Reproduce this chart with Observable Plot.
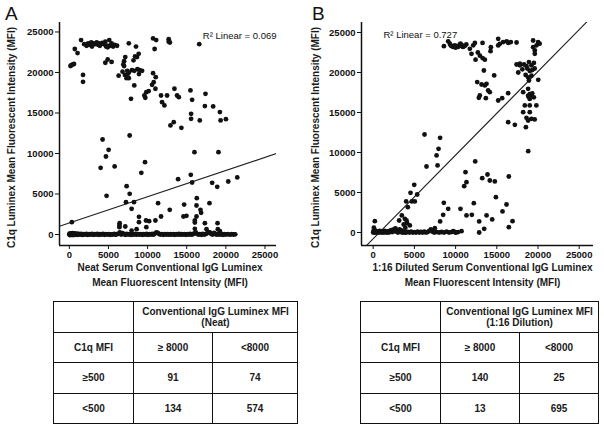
<!DOCTYPE html>
<html><head><meta charset="utf-8">
<script src="https://cdn.jsdelivr.net/npm/d3@7"></script>
<script src="https://cdn.jsdelivr.net/npm/@observablehq/plot@0.6"></script>
<style>
body{margin:0;background:#fff;}
#fig{position:relative;width:604px;height:432px;overflow:hidden;font-family:"Liberation Sans",Arial,sans-serif;}
.pl{position:absolute;top:0}
.lab{position:absolute;font-size:19px;line-height:19px;color:#111}
table.t{position:absolute;border-collapse:collapse;table-layout:fixed;font-weight:bold;font-size:10px;color:#1a1a1a;font-family:"Liberation Sans",Arial,sans-serif}
table.t td{border:1.5px solid #111;text-align:center;vertical-align:middle;height:29.5px;padding:0;line-height:11px}
</style></head>
<body><div id="fig"></div>
<script>
// ---------- data ----------
const tickVals = [0, 5000, 10000, 15000, 20000, 25000];
const yLabel = "C1q Luminex Mean Fluorescent Intensity (MFI)";
const xLabelA = ["Neat Serum Conventional IgG Luminex", "Mean Fluorescent Intensity (MFI)"];
const xLabelB = ["1:16 Diluted Serum Conventional IgG Luminex", "Mean Fluorescent Intensity (MFI)"];
const r2A = "R\u00B2 Linear = 0.069";
const r2B = "R\u00B2 Linear = 0.727";
const fitA = [1418, 0.324];     // intercept, slope
const fitB = [-777, 1.0455];
const xDomainA = [-1256, 26474], yDomainA = [-1358, 26170];
const xDomainB = [-1420, 26735], yDomainB = [-1625, 26250];

const upperA = [[250,20900],[450,21000],[600,21050],[150,20800],[700,22900],[1050,22400],[1500,24000],[1750,19700],[1750,18850],
[1900,23500],[2200,23300],[2400,23600],[2600,23400],[2800,23700],[2900,23200],[3100,23600],[3300,23500],[3500,23700],[3700,23400],[3800,23600],[3900,23300],[4200,23650],[4400,23500],[4600,23800],[4700,23200],[4800,23300],[4900,23100],[5100,24000],[5200,23300],[5400,23600],[5600,23200],[5800,23400],[6100,23300],
[4600,21200],[4900,21600],[5400,21300],[6300,19600],[6900,21000],[7000,21400],[7000,20800],[7150,21900],[7100,19700],[7300,19300],[6800,20100],
[7600,23600],[8520,23200],[8860,22300],[8650,21900],[8200,21500],[8400,22000],[7880,16750],[7490,19840],[7400,20200],[7600,20000],[8000,20300],[8300,20200],[8700,20400],[9000,20300],[9300,20200],[8900,19800],[7600,19300],[8300,18400],
[10700,24200],[10900,22900],[11100,24000],[10700,19920],[11040,19420],[10780,18800],[10570,18480],[11000,17990],
[9840,17570],[9710,16870],[9590,17160],[10140,17700],[11720,17160],[12490,17160],[11850,16340],[12150,15930],
[12700,24100],[12700,23800],[12850,23700],[13430,17990],[13770,17160],[13990,16950],
[15480,17780],[15690,16630],[15560,14900],[15560,14280],[16670,14080],[16600,23500],
[17400,17370],[17320,15850],[18380,15810],[19240,15110],[19330,14080],[20010,14240],
[12920,13460],[13340,13870],[14320,13170]];
const lowerA = [[4250,11730],[7710,12220],[5020,10450],[4680,9630],[4000,8230],[5790,8400],[9670,8930],[9200,7610],[15990,10160],[19060,10160],
[4760,4770],[7320,5970],[7710,5020],[7240,3990],[7960,3170],[8260,3990],[11340,3870],[12830,3050],[13900,6830],[15520,7370],[15690,6420],
[18250,6380],[18900,5880],[20310,6540],[21460,7040],[14670,3700],[14580,2220],[14970,2300],[11720,2220],[8900,2180],[8900,1520],[9800,1730],
[11000,1730],[10200,1650],[320,1520],[6430,1400],[6400,1110],[6400,900],[7150,990],[8600,660],[9840,900],[7960,490],[16290,4490],[16250,3580],
[16760,3050],[16840,2670],[17910,3870],[16250,2220],[16040,1730],[16040,1480],[17320,1400],[17530,660],[18940,1400],[18980,660],[19240,410],[16040,700]];
const baseA = [[0,0],[40,120],[90,-80],[130,60],[180,150],[240,-40],[300,90],[360,0],[420,180],[480,-60],[560,60],[640,150],[720,-30],[800,60],[880,0],[960,120],
[1080,-40],[1200,60],[1350,0],[1500,80],[1650,-50],[1820,40],[2000,0],[2180,60],[2350,-40],[2520,30],[2700,0],[2880,70],[3050,-30],[3230,40],[3400,0],
[3580,60],[3760,-40],[3940,30],[4120,0],[4300,60],[4480,-30],[4660,40],[4840,0],[5020,50],[5200,-30],[5380,20],[5560,0],[5740,60],[5920,-20],[6100,40],
[6280,120],[6450,250],[6620,0],[6800,180],[6980,40],[7160,-30],[7340,60],[7520,0],[7700,50],[7880,-30],[8060,30],[8240,0],[8420,60],[8600,-20],[8780,40],
[8960,0],[9140,50],[9320,-30],[9500,30],[9680,0],[9860,60],[10040,-30],[10220,40],[10400,0],[10580,60],[10760,-20],[10940,120],[11120,250],[11300,200],
[11480,60],[11660,0],[11840,40],[12020,-30],[12200,50],[12380,0],[12560,40],[12740,-20],[12920,30],[13100,0],[13280,50],[13460,-30],[13640,40],[13820,0],
[14000,60],[14180,-20],[14360,30],[14540,0],[14720,50],[14900,-30],[15080,40],[15260,0],[15440,60],[15620,-20],[15800,40],[15980,150],[16160,250],
[16340,60],[16520,0],[16700,40],[16880,-30],[17060,60],[17240,0],[17420,50],[17600,150],[17780,300],[17960,250],[18140,60],[18320,0],[18500,200],
[18680,60],[18860,-20],[19040,40],[19220,0],[19400,50],[19600,-30],[19800,30],[20000,0],[20250,40],[20500,-20],[20750,30],[21000,0],[21200,20]];

const upperB = [[8580,23290],[9100,23900],[9300,23600],[9500,23300],[9700,23200],[9900,23400],[10100,23300],[10300,23200],[10500,23500],[10700,23300],
[10900,23200],[11100,23300],[11300,23500],[9400,23400],[10000,23100],[10600,23600],[10800,23400],[11730,22960],[12140,23400],[12340,23700],[11930,22330],
[13270,23700],[14280,23170],[14240,22670],[15170,24210],[15370,23590],[15770,23800],[16200,23900],[16400,23700],[16700,23800],[17400,23750],[15170,23380],
[12700,22500],[12950,22100],[13270,21800],[13550,21600],[12420,21600],[13430,20250],[14680,19630],
[12620,18800],[13150,18500],[13750,18580],[13950,17750],[14150,17540],[12940,17130],[13670,16790],[12820,16840],[13550,18380],
[16380,17420],[15650,16790],[15170,16500],[19410,24000],[20010,23800],[20200,23600],[19820,23400],[19610,22750],[19610,22330],[19410,23170],
[17400,21000],[17800,21100],[18300,21000],[18600,20800],[18900,21300],[19200,20900],[18100,20400],[18700,20500],[19000,20200],[19300,20300],
[19600,20500],[17600,20000],[18500,19700],[18800,19400],[19200,19600],[18900,19000],[17800,20900],[19500,21200],
[20030,19085],[18200,17540],[18800,17960],[18800,17100],[19000,17300],[19200,17200],[19500,16900],[19300,17400],[19000,16700],[18900,16900],
[18400,15880],[19000,15880],[19800,15880],[18200,15040],[19000,15040],[18600,14330],[19200,14210],[19600,14130],[18800,14000],
[16380,13790],[17190,13460],[18530,13170]];
const lowerB = [[6230,12250],[8120,11830],[7930,10460],[7690,9630],[7810,8380],[6470,8250],
[4980,5960],[5340,4750],[4530,4960],[4000,3880],[4690,3880],[5050,3880],[4200,3170],[3470,2130],[3150,1500],[3840,1710],[4040,1500],[4120,1170],
[4450,880],[3700,1000],[3900,600],[200,1420],[12380,8880],[11200,7540],[11320,6290],[11040,5790],[13230,6790],[13870,7250],[14150,6500],[14760,6380],
[16460,7000],[14890,4420],[8570,3710],[9100,2960],[8490,2210],[8120,1380],[10590,2960],[11320,2130],[11970,2210],[12210,3670],[12860,1380],[12860,0],
[13470,460],[13760,2130],[14440,1630],[15690,2630],[16180,3500],[16460,670],[16910,1420],[18810,10170],[7480,540],[10720,170],[9710,170],[10030,0]];
const baseB = [[0,0],[50,200],[100,100],[150,400],[80,600],[200,0],[300,100],[400,0],[500,150],[600,50],[700,0],[800,200],[900,100],[1000,0],[1100,150],
[1200,50],[1300,0],[1400,200],[1500,100],[1600,0],[1700,150],[1800,50],[1900,0],[2000,200],[2100,100],[2200,300],[2300,50],[2400,150],[2500,400],
[2600,200],[2700,500],[2800,100],[2900,300],[3000,0],[3100,200],[3200,400],[3300,100],[3400,250],[3500,0],[3600,150],[3700,50],[3800,0],[3900,100],
[4000,0],[4200,80],[4400,0],[4600,100],[4800,0],[5000,50],[5200,0],[5400,100],[5600,0],[5800,80],[6000,0],[6200,100],[6400,0],[6600,50],[6800,200],
[7000,400],[7200,100],[7400,0],[7700,50],[8000,0],[8300,60],[8600,0],[8900,100],[9200,0],[9500,50],[9800,100],[10000,0],[10300,50]];

const colLabels = ["\u2265 8000", "<8000"];
const rowLabels = ["\u2265500", "<500"];
const countsA = [[91, 74], [134, 574]];
const countsB = [[140, 25], [13, 695]];
const headA = ["Conventional IgG Luminex MFI", "(Neat)"];
const headB = ["Conventional IgG Luminex MFI", "(1:16 Dilution)"];

// ---------- drawing ----------
const fig = document.getElementById("fig");
const FONT = '"Liberation Sans", Arial, sans-serif';

function panel(pts, fit, xd, yd, r2, r2opts, xl, left, mr, ylDx, xlDx) {
  const fitPts = xd.map(x => ({x, y: fit[0] + fit[1] * x}));
  const p = Plot.plot({
    width: 302, height: 292,
    marginLeft: 59, marginRight: mr, marginTop: 22, marginBottom: 47,
    style: {fontFamily: FONT, fontSize: "9.5px", fontWeight: "bold", color: "#111", background: "transparent", overflow: "visible"},
    x: {domain: xd, ticks: tickVals, tickFormat: "d", tickSize: 4, tickPadding: 2, label: null},
    y: {domain: yd, ticks: tickVals, tickFormat: "d", tickSize: 4, tickPadding: 2, label: null},
    marks: [
      Plot.ruleX([xd[0]], {stroke: "#111", strokeWidth: 1.5}),
      Plot.ruleY([yd[0]], {stroke: "#111", strokeWidth: 1.5}),
      Plot.line(fitPts, {x: "x", y: "y", stroke: "#222", strokeWidth: 1.1, clip: true}),
      Plot.dot(pts, {x: d => d[0], y: d => d[1], r: 2.4, fill: "#111", stroke: "none"}),
      Plot.text([r2], {text: d => d, fontSize: 9.5, fontWeight: "normal", fill: "#111", ...r2opts}),
      Plot.text([yLabel], {text: d => d, frameAnchor: "left", textAnchor: "middle", rotate: -90, dx: ylDx, dy: 3.5, fontSize: 10, fill: "#1a1a1a"}),
      Plot.text([xl[0]], {text: d => d, frameAnchor: "bottom", dx: xlDx, dy: 25, fontSize: 10, fill: "#1a1a1a"}),
      Plot.text([xl[1]], {text: d => d, frameAnchor: "bottom", dx: xlDx, dy: 40, fontSize: 10, fill: "#1a1a1a"})
    ]
  });
  p.classList.add("pl");
  p.style.left = left + "px";
  fig.appendChild(p);
}

panel(upperA.concat(lowerA, baseA), fitA, xDomainA, yDomainA, r2A,
  {frameAnchor: "top-right", textAnchor: "end", dx: 0, dy: 10}, xLabelA, 0, 26, -48, 2);
panel(upperB.concat(lowerB, baseB), fitB, xDomainB, yDomainB, r2B,
  {frameAnchor: "top-left", textAnchor: "start", dx: 22, dy: 9}, xLabelB, 302, 11, -46, 5);

function label(t, x) {
  const d = document.createElement("div");
  d.className = "lab"; d.textContent = t;
  d.style.left = x + "px"; d.style.top = "4px";
  fig.appendChild(d);
}
label("A", 5); label("B", 312);

function table(head, counts, left, widths) {
  const t = document.createElement("table");
  t.className = "t";
  t.style.left = left + "px"; t.style.top = "301px";
  t.style.width = widths.reduce((a, b) => a + b, 0) + "px";
  const cg = document.createElement("colgroup");
  widths.forEach(w => { const c = document.createElement("col"); c.style.width = w + "px"; cg.appendChild(c); });
  t.appendChild(cg);
  const addRow = cells => {
    const tr = document.createElement("tr");
    cells.forEach(([html, span]) => {
      const td = document.createElement("td");
      td.innerHTML = html; if (span) td.colSpan = span;
      tr.appendChild(td);
    });
    t.appendChild(tr);
  };
  const esc = s => String(s).replace(/</g, "&lt;");
  addRow([["", 0], [head.map(esc).join("<br>"), 2]]);
  addRow([["C1q MFI", 0], [esc(colLabels[0]), 0], [esc(colLabels[1]), 0]]);
  rowLabels.forEach((r, i) => addRow([[esc(r), 0], [counts[i][0], 0], [counts[i][1], 0]]));
  fig.appendChild(t);
}
table(headA, countsA, 53, [80, 79, 85]);
table(headB, countsB, 360, [80, 79, 79]);
</script>
</body></html>
